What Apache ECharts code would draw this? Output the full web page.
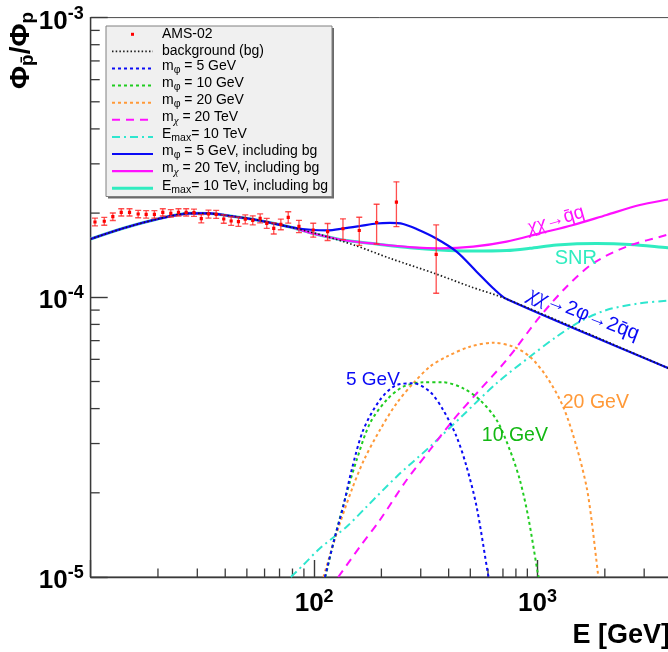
<!DOCTYPE html>
<html>
<head>
<meta charset="utf-8">
<title>Antiproton-to-proton ratio</title>
<script src="https://cdn.jsdelivr.net/npm/echarts@6.0.0/dist/echarts.min.js"></script>
<style>
  html, body { margin: 0; padding: 0; background: #ffffff; }
  #chart { width: 668px; height: 652px; }
</style>
</head>
<body>
<div id="chart"></div>
<script>
// ---- AMS-02 measurement: kinetic energy [GeV], pbar/p ratio, 1-sigma error ----
const amsEnergy = [10.45, 11.50, 12.56, 13.70, 14.92, 16.31, 17.71, 19.28, 21.02, 22.83,
                   24.71, 26.75, 28.99, 31.25, 33.66, 36.44, 39.40, 42.52, 45.84, 49.18,
                   53.12, 57.33, 61.37, 65.96, 70.96, 76.58, 85.51, 99.08, 114.9, 134.6,
                   159.2, 190.4, 233.5, 351.8];
const amsRatio = [1.859e-4, 1.870e-4, 1.942e-4, 2.013e-4, 2.013e-4, 1.985e-4, 1.980e-4, 1.980e-4, 2.013e-4, 1.997e-4,
                  2.013e-4, 2.013e-4, 2.007e-4, 1.910e-4, 1.985e-4, 1.980e-4, 1.905e-4, 1.874e-4, 1.864e-4, 1.901e-4,
                  1.885e-4, 1.916e-4, 1.839e-4, 1.764e-4, 1.824e-4, 1.932e-4, 1.794e-4, 1.740e-4, 1.716e-4, 1.758e-4,
                  1.733e-4, 1.851e-4, 2.188e-4, 1.424e-4];
const amsError = [0.06e-4, 0.06e-4, 0.06e-4, 0.06e-4, 0.06e-4, 0.06e-4, 0.06e-4, 0.06e-4, 0.06e-4, 0.06e-4,
                  0.06e-4, 0.06e-4, 0.06e-4, 0.065e-4, 0.065e-4, 0.065e-4, 0.065e-4, 0.065e-4, 0.07e-4, 0.07e-4,
                  0.07e-4, 0.07e-4, 0.075e-4, 0.08e-4, 0.08e-4, 0.09e-4, 0.09e-4, 0.10e-4, 0.12e-4, 0.15e-4,
                  0.20e-4, 0.30e-4, 0.40e-4, 0.39e-4];

// ---- secondary background ----
const bgEnergy = [10, 13.99, 19.74, 27.82, 34.19, 39.20, 55.30, 77.93, 109.8, 155.0, 218.3, 352.5, 498, 726.6, 3828, 4000];
const bgRatio  = [1.616e-4, 1.765e-4, 1.901e-4, 1.997e-4, 1.994e-4, 1.970e-4, 1.890e-4, 1.784e-4, 1.663e-4, 1.526e-4,
                  1.379e-4, 1.211e-4, 1.093e-4, 9.86e-5, 5.59e-5, 5.51e-5];

// ---- dark matter, chi chi -> 2 phi -> 2 qbar q, for three mediator masses ----
const m5Energy = [111.8, 121.8, 134.9, 147.2, 165.9, 197.0, 233.9, 277.6, 329.7, 378.1, 434.1, 481.3, 533.5, 601.2, 606];
const m5Ratio  = [1.0e-5, 1.320e-5, 1.784e-5, 2.413e-5, 3.354e-5, 4.294e-5, 4.858e-5, 4.926e-5, 4.598e-5, 3.954e-5,
                  3.174e-5, 2.479e-5, 1.784e-5, 1.016e-5, 1.0e-5];
const m10Energy = [112.3, 123.9, 139.8, 155.0, 177.7, 211.1, 250.4, 307.7, 378.1, 464.7, 551.9, 655.6, 751.7, 833.2, 907.7, 1006, 1013];
const m10Ratio  = [1.0e-5, 1.393e-5, 1.992e-5, 2.620e-5, 3.544e-5, 4.294e-5, 4.790e-5, 4.967e-5, 4.967e-5, 4.727e-5,
                   4.294e-5, 3.642e-5, 2.845e-5, 2.222e-5, 1.643e-5, 1.016e-5, 1.0e-5];
const m20Energy = [110.1, 126.1, 147.2, 167.1, 197.0, 233.9, 277.6, 329.7, 391.6, 497.9, 632.9, 777.6, 923.8, 1097.3,
                   1302, 1494.6, 1656.4, 1744.4, 1866.8, 1875];
const m20Ratio  = [1.0e-5, 1.433e-5, 2.047e-5, 2.620e-5, 3.354e-5, 4.178e-5, 4.926e-5, 5.648e-5, 6.132e-5, 6.659e-5,
                   6.881e-5, 6.659e-5, 6.132e-5, 5.201e-5, 4.062e-5, 2.923e-5, 2.103e-5, 1.599e-5, 1.016e-5, 1.0e-5];

// ---- heavy dark matter, chi chi -> qbar q, m_chi = 20 TeV ----
const mChiEnergy = [128.2, 160.3, 197.0, 259.4, 329.7, 419.2, 540.7, 726.6, 1024, 1348.6, 1773.6, 2502, 3777, 4000];
const mChiRatio  = [1.0e-5, 1.283e-5, 1.599e-5, 2.222e-5, 2.845e-5, 3.642e-5, 4.586e-5, 5.968e-5, 8.524e-5, 1.091e-4,
                    1.323e-4, 1.517e-4, 1.670e-4, 1.69e-4];

// ---- secondary production in SNR, E_max = 10 TeV ----
const eMaxEnergy = [78.7, 89.4, 106.2, 139.8, 171.8, 233.9, 329.7, 464.7, 655.6, 923.8, 1216, 1546, 2036, 2869, 3828, 4000];
const eMaxRatio  = [1.0e-5, 1.104e-5, 1.267e-5, 1.513e-5, 1.784e-5, 2.284e-5, 2.923e-5, 3.795e-5, 4.926e-5, 6.132e-5,
                    7.231e-5, 8.180e-5, 9.007e-5, 9.517e-5, 9.723e-5, 9.74e-5];

// ---- totals, each including the background ----
const m5TotEnergy = [10, 13.99, 19.74, 27.82, 34.19, 39.20, 55.30, 77.93, 99.1, 115.3, 134.6, 160.3, 190.4, 218.3, 250.4,
                     287.4, 351.8, 434.1, 533.5, 632.9, 726.6, 3828, 4000];
const m5TotRatio  = [1.616e-4, 1.765e-4, 1.901e-4, 1.997e-4, 1.994e-4, 1.970e-4, 1.890e-4, 1.784e-4, 1.740e-4, 1.736e-4,
                     1.762e-4, 1.798e-4, 1.836e-4, 1.844e-4, 1.828e-4, 1.754e-4, 1.623e-4, 1.456e-4, 1.235e-4, 1.077e-4,
                     9.86e-5, 5.59e-5, 5.51e-5];
const mChiTotEnergy = [10, 13.99, 19.74, 27.82, 34.19, 39.20, 55.30, 77.93, 99.1, 134.1, 190.4, 277.6, 365.5, 515.1,
                       726.6, 1024, 1443, 2036, 2869, 3828, 4000];
const mChiTotRatio  = [1.616e-4, 1.765e-4, 1.901e-4, 1.997e-4, 1.994e-4, 1.970e-4, 1.890e-4, 1.784e-4, 1.691e-4, 1.603e-4,
                       1.551e-4, 1.509e-4, 1.497e-4, 1.517e-4, 1.581e-4, 1.693e-4, 1.813e-4, 1.970e-4, 2.138e-4, 2.237e-4,
                       2.25e-4];
const eMaxTotEnergy = [10, 13.99, 19.74, 27.82, 34.19, 39.20, 55.30, 77.93, 99.1, 134.1, 190.4, 268.3, 365.5, 498,
                       726.6, 923.8, 1216, 1837, 2588, 3828, 4000];
const eMaxTotRatio  = [1.616e-4, 1.765e-4, 1.901e-4, 1.997e-4, 1.994e-4, 1.970e-4, 1.890e-4, 1.784e-4, 1.691e-4, 1.603e-4,
                       1.551e-4, 1.504e-4, 1.476e-4, 1.464e-4, 1.470e-4, 1.497e-4, 1.538e-4, 1.557e-4, 1.545e-4, 1.503e-4,
                       1.50e-4];

// ---- axes ----
const xRange = [10, 10000];
const yRange = [1e-5, 1e-3];
const xLabelledExponents = [2, 3];
const yLabelledExponents = [-5, -4, -3];
const xMinorTicks = [20, 30, 40, 50, 60, 70, 80, 90, 200, 300, 400, 500, 600, 700, 800, 900,
                     2000, 3000, 4000, 5000, 6000, 7000, 8000, 9000];
const yMinorTicks = [2e-5, 3e-5, 4e-5, 5e-5, 6e-5, 7e-5, 8e-5, 9e-5, 2e-4, 3e-4, 4e-4, 5e-4, 6e-4, 7e-4, 8e-4, 9e-4];

// ---- legend entries (rich-text labels) ----
const legendKeys = ['ams', 'bg', 'm5', 'm10', 'm20', 'mChi', 'eMax', 'm5Tot', 'mChiTot', 'eMaxTot'];
const legendLabels = [
  'AMS-02',
  'background (bg)',
  'm{s|φ} = 5 GeV',
  'm{s|φ} = 10 GeV',
  'm{s|φ} = 20 GeV',
  'm{g|χ} = 20 TeV',
  'E{s|max}= 10 TeV',
  'm{s|φ} = 5 GeV, including bg',
  'm{g|χ} = 20 TeV, including bg',
  'E{s|max}= 10 TeV, including bg'
];

// ---- curve annotations ----
const annotationTexts = ['{i|χχ}→q\u0304q', 'SNR', '{i|χχ}→2φ→2q\u0304q', '5 GeV', '10 GeV', '20 GeV'];

// ---------------------------------------------------------------------------
const FONT = "'Liberation Sans', Arial, Helvetica, sans-serif";
const SERIF = "'Liberation Serif', 'DejaVu Serif', serif";
const COLORS = {
  ams: '#ff0000', amsBar: 'rgba(255,35,35,0.8)', bg: '#1c1c1c',
  blue: '#0a0af5', green: '#1fcc1f', orange: '#ff9938', magenta: '#ff10ff',
  cyan: '#2ee6cf', cyanSolid: '#30ecc0'
};
const STYLE = {
  bg:      { color: COLORS.bg,        width: 1.7, type: [1.5, 2.2] },
  m5:      { color: COLORS.blue,      width: 2,   type: [3, 3] },
  m10:     { color: COLORS.green,     width: 2,   type: [3, 3] },
  m20:     { color: COLORS.orange,    width: 2,   type: [3, 3] },
  mChi:    { color: COLORS.magenta,   width: 2,   type: [8, 6] },
  eMax:    { color: COLORS.cyan,      width: 2,   type: [8, 4, 2, 4] },
  m5Tot:   { color: COLORS.blue,      width: 2.2, type: 'solid' },
  mChiTot: { color: COLORS.magenta,   width: 2.2, type: 'solid' },
  eMaxTot: { color: COLORS.cyanSolid, width: 3,   type: 'solid' }
};

const pairs = (xs, ys) => xs.map((x, i) => [x, ys[i]]);

function curve(name, xs, ys, st, z) {
  return {
    type: 'line', name, data: pairs(xs, ys), z,
    symbol: 'none', showSymbol: false, smooth: 0.3, clip: true, silent: true,
    lineStyle: { color: st.color, width: st.width, type: st.type, cap: 'butt' },
    emphasis: { disabled: true }
  };
}

const chart = echarts.init(document.getElementById('chart'), null, { renderer: 'canvas' });

const grid = { left: 90.7, right: -93, top: 17.6, bottom: 75, show: true,
               borderColor: '#4a4a4a', borderWidth: 1, containLabel: false, outerBoundsMode: 'none' };

const option = {
  animation: false,
  backgroundColor: '#ffffff',
  grid,
  xAxis: {
    type: 'log', logBase: 10, min: xRange[0], max: xRange[1],
    axisLine: { show: true, lineStyle: { color: '#3a3a3a', width: 1.4 } },
    axisTick: { show: true, inside: true, length: 17, lineStyle: { color: '#3a3a3a', width: 1.4 } },
    splitLine: { show: false },
    axisLabel: {
      show: true, margin: 14, showMinLabel: true, showMaxLabel: true, hideOverlap: false,
      formatter: v => {
        const e = Math.round(Math.log10(v));
        return xLabelledExponents.includes(e) ? '{n|10}{s|' + e + '}' : '';
      },
      rich: {
        n: { fontFamily: FONT, fontWeight: 'bold', fontSize: 26, lineHeight: 26, color: '#000' },
        s: { fontFamily: FONT, fontWeight: 'bold', fontSize: 18, lineHeight: 26, color: '#000', padding: [0, 0, 13, 0] }
      }
    }
  },
  yAxis: {
    type: 'log', logBase: 10, min: yRange[0], max: yRange[1],
    axisLine: { show: true, lineStyle: { color: '#3a3a3a', width: 1.4 } },
    axisTick: { show: true, inside: true, length: 17, lineStyle: { color: '#3a3a3a', width: 1.4 } },
    splitLine: { show: false },
    axisLabel: {
      show: true, margin: 7, showMinLabel: true, showMaxLabel: true, hideOverlap: false,
      formatter: v => {
        const e = Math.round(Math.log10(v));
        return yLabelledExponents.includes(e) ? '{n|10}{s|' + e + '}' : '';
      },
      rich: {
        n: { fontFamily: FONT, fontWeight: 'bold', fontSize: 26, lineHeight: 30, color: '#000', padding: [8, 0, 0, 0] },
        s: { fontFamily: FONT, fontWeight: 'bold', fontSize: 18, lineHeight: 30, color: '#000', padding: [0, 0, 8, 0] }
      }
    }
  },
  series: [
    // minor ticks along both axes
    {
      type: 'custom', name: 'minor ticks', silent: true, clip: false, z: 1,
      data: xMinorTicks.map(v => [v, yRange[0], 0]).concat(yMinorTicks.map(v => [xRange[0], v, 1])),
      renderItem: (params, api) => {
        const p = api.coord([api.value(0), api.value(1)]);
        const alongY = api.value(2) === 1;
        return {
          type: 'line',
          shape: alongY ? { x1: p[0], y1: p[1], x2: p[0] + 9, y2: p[1] }
                        : { x1: p[0], y1: p[1], x2: p[0], y2: p[1] - 8.5 },
          style: { stroke: '#3a3a3a', lineWidth: 1.3 }
        };
      }
    },
    curve('E_max = 10 TeV, including bg', eMaxTotEnergy, eMaxTotRatio, STYLE.eMaxTot, 2),
    curve('m_chi = 20 TeV, including bg', mChiTotEnergy, mChiTotRatio, STYLE.mChiTot, 3),
    curve('m_phi = 5 GeV, including bg', m5TotEnergy, m5TotRatio, STYLE.m5Tot, 4),
    curve('E_max = 10 TeV', eMaxEnergy, eMaxRatio, STYLE.eMax, 5),
    curve('m_chi = 20 TeV', mChiEnergy, mChiRatio, STYLE.mChi, 5),
    curve('m_phi = 20 GeV', m20Energy, m20Ratio, STYLE.m20, 5),
    curve('m_phi = 10 GeV', m10Energy, m10Ratio, STYLE.m10, 5),
    curve('m_phi = 5 GeV', m5Energy, m5Ratio, STYLE.m5, 5),
    curve('background (bg)', bgEnergy, bgRatio, STYLE.bg, 6),
    // AMS-02 points with error bars
    {
      type: 'custom', name: 'AMS-02', silent: true, clip: true, z: 8,
      data: amsEnergy.map((e, i) => [e, amsRatio[i], amsError[i]]),
      renderItem: (params, api) => {
        const e = api.value(0), v = api.value(1), s = api.value(2);
        const c = api.coord([e, v]);
        const hi = api.coord([e, v + s]);
        const lo = api.coord([e, v - s]);
        const cap = 3;
        const bar = { stroke: COLORS.amsBar, lineWidth: 1.3 };
        return {
          type: 'group',
          children: [
            { type: 'line', shape: { x1: c[0], y1: hi[1], x2: c[0], y2: lo[1] }, style: bar },
            { type: 'line', shape: { x1: c[0] - cap, y1: hi[1], x2: c[0] + cap, y2: hi[1] }, style: bar },
            { type: 'line', shape: { x1: c[0] - cap, y1: lo[1], x2: c[0] + cap, y2: lo[1] }, style: bar },
            { type: 'rect', shape: { x: c[0] - 1.6, y: c[1] - 1.6, width: 3.2, height: 3.2 }, style: { fill: COLORS.ams } }
          ]
        };
      }
    }
  ]
};

chart.setOption(option);

// ---------------- overlay: titles, legend and curve annotations ----------------
const toPx = (e, v) => chart.convertToPixel({ gridIndex: 0 }, [e, v]);
const graphics = [];

// axis titles
graphics.push({
  type: 'text', x: 670, y: 636, z: 20,
  style: { text: 'E [GeV]', fill: '#000', font: 'bold 27px ' + FONT, align: 'right', verticalAlign: 'middle' }
});
graphics.push({
  type: 'text', x: 21, y: 12, rotation: Math.PI / 2, z: 20,
  style: {
    text: '{f|Φ}{s|p\u0304}{f|/Φ}{s|p}', align: 'right', verticalAlign: 'middle',
    rich: {
      f: { font: 'bold 28px ' + FONT, fill: '#000', lineHeight: 32 },
      s: { font: 'bold 19px ' + FONT, fill: '#000', lineHeight: 32, padding: [13, 0, 0, 0] }
    }
  }
});

// legend box
const LEG = { x: 106, y: 26, w: 226, h: 170.5, row0: 34.3, dy: 17.1, lineX0: 112, lineX1: 153, textX: 162 };
graphics.push({ type: 'rect', z: 20, shape: { x: LEG.x + 2, y: LEG.y + 2, width: LEG.w, height: LEG.h },
                style: { fill: '#6a6a6a' } });
graphics.push({ type: 'rect', z: 21, shape: { x: LEG.x, y: LEG.y, width: LEG.w, height: LEG.h },
                style: { fill: '#f0f0f0', stroke: '#808080', lineWidth: 1 } });
legendKeys.forEach((key, i) => {
  const y = LEG.row0 + LEG.dy * i;
  if (key === 'ams') {
    graphics.push({ type: 'rect', z: 22, shape: { x: (LEG.lineX0 + LEG.lineX1) / 2 - 1.5, y: y - 1.5, width: 3, height: 3 },
                    style: { fill: COLORS.ams } });
  } else {
    const st = STYLE[key];
    graphics.push({ type: 'line', z: 22, shape: { x1: LEG.lineX0, y1: y, x2: LEG.lineX1, y2: y },
                    style: { stroke: st.color, lineWidth: st.width, lineDash: st.type === 'solid' ? null : st.type } });
  }
  const hasSub = /\{[sg]\|/.test(legendLabels[i]);
  graphics.push({
    type: 'text', z: 22, x: LEG.textX, y: y - (hasSub ? 2.5 : 0),
    style: {
      text: legendLabels[i], font: '14px ' + FONT, fill: '#000', align: 'left', verticalAlign: 'middle',
      rich: {
        s: { font: '10.5px ' + FONT, fill: '#000', lineHeight: 16, padding: [8, 0, 0, 0] },
        g: { font: 'italic 11px ' + SERIF, fill: '#000', lineHeight: 16, padding: [8, 0, 0, 0] }
      }
    }
  });
});

// curve annotations, anchored in data coordinates
const annotationAt = [[1208, 1.89e-4], [1484, 1.371e-4], [1612, 8.714e-5], [183.3, 5.062e-5], [791.4, 3.192e-5], [1823, 4.189e-5]];
const annotationStyle = [
  { color: COLORS.magenta, size: 19, rot: 16 },
  { color: COLORS.cyanSolid, size: 20, rot: 0 },
  { color: COLORS.blue, size: 20, rot: -21 },
  { color: COLORS.blue, size: 19, rot: 0 },
  { color: '#13b813', size: 19.5, rot: 0 },
  { color: COLORS.orange, size: 19.5, rot: 0 }
];
annotationTexts.forEach((t, i) => {
  const p = toPx(annotationAt[i][0], annotationAt[i][1]);
  const st = annotationStyle[i];
  graphics.push({
    type: 'text', x: p[0], y: p[1], rotation: st.rot * Math.PI / 180, z: 15,
    style: {
      text: t, font: st.size + 'px ' + FONT, fill: st.color, align: 'center', verticalAlign: 'middle',
      rich: { i: { font: 'italic ' + (st.size + 2) + 'px ' + SERIF, fill: st.color } }
    }
  });
});

chart.setOption({ graphic: { elements: graphics } });
</script>
</body>
</html>
